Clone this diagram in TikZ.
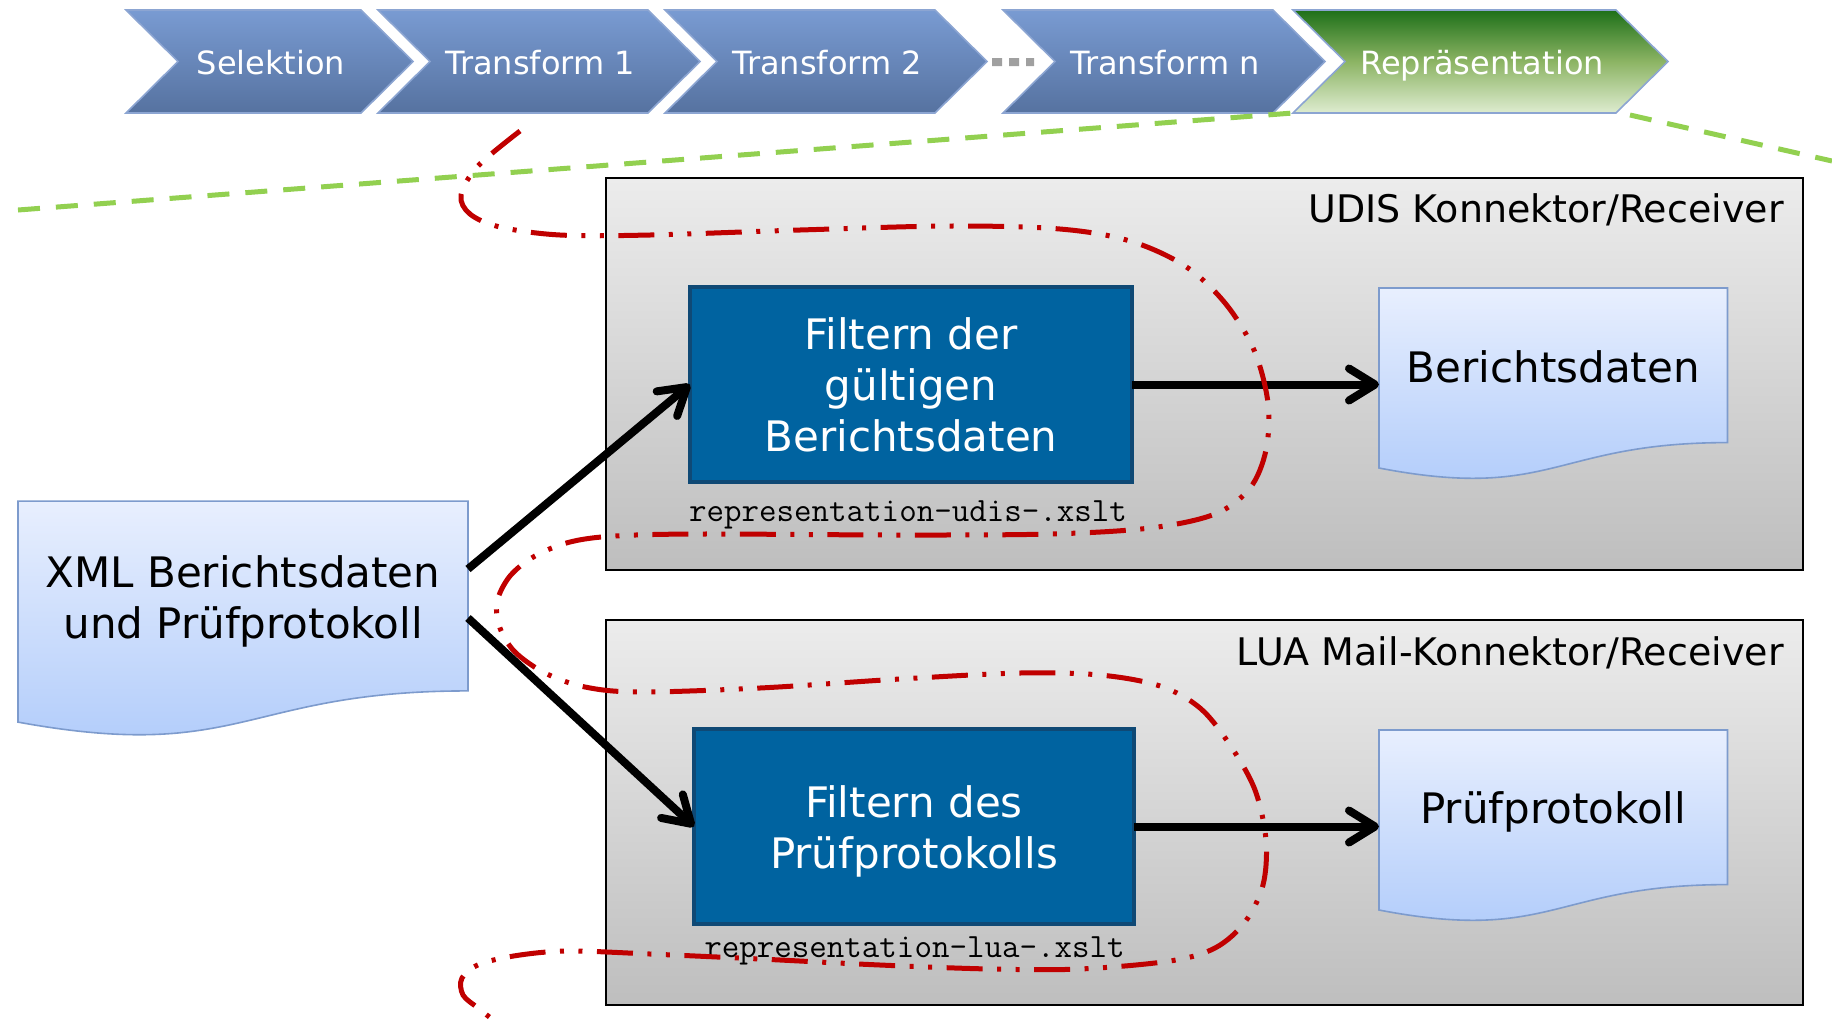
\documentclass[tikz,border=0pt]{standalone}
\usepackage{fontspec}
\setmainfont{DejaVu Sans}
\usetikzlibrary{arrows.meta,calc}
\pgfdeclarelayer{back}
\pgfdeclarelayer{mid}
\pgfsetlayers{back,mid,main}
\definecolor{chevtop}{RGB}{121,155,210}
\definecolor{chevbot}{RGB}{86,114,160}
\definecolor{chevline}{RGB}{140,165,210}
\definecolor{grtop}{RGB}{30,112,25}
\definecolor{grmid}{RGB}{140,180,100}
\definecolor{grbot}{RGB}{222,236,208}
\definecolor{graytop}{RGB}{236,236,236}
\definecolor{graybot}{RGB}{190,190,190}
\definecolor{filtfill}{RGB}{0,99,160}
\definecolor{filtline}{RGB}{15,73,117}
\definecolor{doctop}{RGB}{232,239,254}
\definecolor{docbot}{RGB}{174,202,250}
\definecolor{docline}{RGB}{125,155,205}
\definecolor{redc}{RGB}{192,0,0}
\definecolor{greenc}{RGB}{146,208,80}
\definecolor{dotgray}{RGB}{160,160,160}
\tikzset{
 chevblue/.style={draw=chevline, line width=0.8pt, top color=chevtop, bottom color=chevbot},
 chevgreen/.style={draw=chevline, line width=0.8pt, top color=grtop, bottom color=grbot, middle color=grmid},
 chevtext/.style={text=white, font=\fontsize{16pt}{19pt}\selectfont, inner sep=0pt, anchor=base},
 graybox/.style={draw=black, line width=1.3pt, top color=graytop, bottom color=graybot, inner sep=0pt, outer sep=0pt},
 boxlabel/.style={font=\fontsize{19pt}{23pt}\selectfont, inner sep=0pt, anchor=east},
 filterbox/.style={draw=filtline, line width=2pt, fill=filtfill, text=white, align=center, font=\fontsize{21pt}{25.5pt}\selectfont, inner sep=0pt, outer sep=0pt},
 docnode/.style={align=center, font=\fontsize{21pt}{25.5pt}\selectfont, inner sep=0pt, outer sep=0pt},
 docshade/.style={draw=docline, line width=0.8pt, top color=doctop, bottom color=docbot},
 filelabel/.style={font=\ttfamily\fontsize{17pt}{20pt}\selectfont, inner sep=0pt},
 flow/.style={line width=4pt, -{Straight Barb[length=13pt,width=16pt,round]}},
 redloop/.style={draw=redc, line width=2.5pt, dash pattern=on 18pt off 7.25pt on 2pt off 7.25pt on 2pt off 7.25pt},
 greenline/.style={draw=greenc, line width=2.5pt, dash pattern=on 11pt off 8pt},
}
\newcommand\twolines[3]{\raisebox{#1}[\height][\depth]{\begin{tabular}{@{}c@{}}#2\\#3\end{tabular}}}
\newcommand\lowered[2]{\raisebox{#1}[\height][\depth]{#2}}
\begin{document}
\begin{tikzpicture}[x=0.5pt,y=-0.5pt]
\useasboundingbox (0,0) rectangle (1832,1019);
% chevrons
\path[chevblue] (126,10) -- (361,10) -- (413,61.5) -- (361,113) -- (126,113) -- (178,61.5) -- cycle;
\path[chevblue] (378,10) -- (648,10) -- (700,61.5) -- (648,113) -- (378,113) -- (430,61.5) -- cycle;
\path[chevblue] (665,10) -- (935,10) -- (987,61.5) -- (935,113) -- (665,113) -- (717,61.5) -- cycle;
\path[chevblue] (1003,10) -- (1273,10) -- (1325,61.5) -- (1273,113) -- (1003,113) -- (1055,61.5) -- cycle;
\coordinate (repbl) at (1293,113);
\coordinate (repbr) at (1616,113);
\path[chevgreen] (1293,10) -- (1616,10) -- (1668,61.5) -- (repbr) -- (repbl) -- (1345,61.5) -- cycle;
\node[chevtext] (sel) at (271,74) {Selektion};
\node[chevtext] (t1) at (540,74) {Transform 1};
\node[chevtext] (t2) at (827,74) {Transform 2};
\node[chevtext] (tn) at (1165,74) {Transform n};
\node[chevtext] (rep) at (1482,74) {Repräsentation};
\fill[dotgray] (992,58) rectangle (1002,66) (1009,58) rectangle (1019,66) (1026,58) rectangle (1034,66);
% green dashed lines
\coordinate (gl) at (18,210);
\coordinate (gr0) at (1630,115);
\coordinate (gr1) at (1832,161);
\draw[greenline] (gl) -- (repbl);
\draw[greenline] (gr0) -- (gr1);
% gray containers
\begin{pgfonlayer}{back}
\node[graybox, minimum width=598.5pt, minimum height=196pt] (udis) at (1204.5,374) {};
\node[graybox, minimum width=598.5pt, minimum height=192.5pt] (lua) at (1204.5,812.5) {};
\end{pgfonlayer}
\node[boxlabel] (udislbl) at ($(udis.north east)+(-19,32)$) {UDIS Konnektor/Receiver};
\node[boxlabel] (lualbl) at ($(lua.north east)+(-19,33)$) {LUA Mail-Konnektor/Receiver};
% filter boxes
\node[filterbox, minimum width=221pt, minimum height=97.5pt] (filt1) at (911,384.5) {Filtern der\\gültigen\\Berichtsdaten};
\node[filterbox, minimum width=220pt, minimum height=97.5pt] (filt2) at (914,826.5) {\twolines{-2.9pt}{Filtern des}{Prüfprotokolls}};
\node[filelabel] (udisfile) at (908,515) {representation-udis-.xslt};
\node[filelabel] (luafile) at (914.5,950.5) {representation-lua-.xslt};
% documents
\node[docnode, minimum width=225pt, minimum height=94.9pt] (xml) at (243,596) {\twolines{-3.5pt}{XML Berichtsdaten}{und Prüfprotokoll}};
\node[docnode, minimum width=174.25pt, minimum height=77.3pt] (ber) at (1553.25,365.3) {\lowered{-0.6pt}{Berichtsdaten}};
\node[docnode, minimum width=174.25pt, minimum height=77.3pt] (pruef) at (1553.25,807.3) {\lowered{-2.3pt}{Prüfprotokoll}};
\begin{pgfonlayer}{mid}
\path[docshade] (xml.north west) -- (xml.north east) -- (xml.south east) .. controls (xml.south) and ($(xml.south)+(0,72.3)$) .. ($(xml.south west)+(0,31.2)$) -- cycle;
\path[docshade] (ber.north west) -- (ber.north east) -- (ber.south east) .. controls (ber.south) and ($(ber.south)+(0,58.9)$) .. ($(ber.south west)+(0,25.4)$) -- cycle;
\path[docshade] (pruef.north west) -- (pruef.north east) -- (pruef.south east) .. controls (pruef.south) and ($(pruef.south)+(0,58.9)$) .. ($(pruef.south west)+(0,25.4)$) -- cycle;
\end{pgfonlayer}
% connectors
\draw[flow] ([yshift=13.5pt]xml.east) -- (filt1.west);
\draw[flow] ([yshift=-11pt]xml.east) -- (filt2.west);
\draw[flow] (filt1.east) -- (filt1.east -| ber.west);
\draw[flow] (filt2.east) -- (filt2.east -| pruef.west);
% red loop
\draw[redloop] plot[smooth, tension=0.55] coordinates {(520,131) (478,166) (461,195) (470,214) (500,227) (560,235) (650,235) (800,230) (950,226) (1060,229) (1130,241) (1185,266) (1225,303) (1254,350) (1268,403) (1266,450) (1250,488) (1215,514) (1150,528) (1050,534) (900,535) (700,534) (615,536) (570,542) (535,556) (510,576) (497,602) (500,628) (515,652) (545,673) (585,687) (640,692) (760,688) (900,679) (1020,673) (1100,675) (1160,686) (1200,708) (1230,745) (1255,790) (1266,840) (1263,885) (1245,922) (1215,948) (1170,961) (1080,969) (990,969) (880,965) (760,959) (650,954) (570,951) (520,955) (480,964) (462,978) (463,995) (478,1008) (492,1019)};
\end{tikzpicture}
\end{document}
